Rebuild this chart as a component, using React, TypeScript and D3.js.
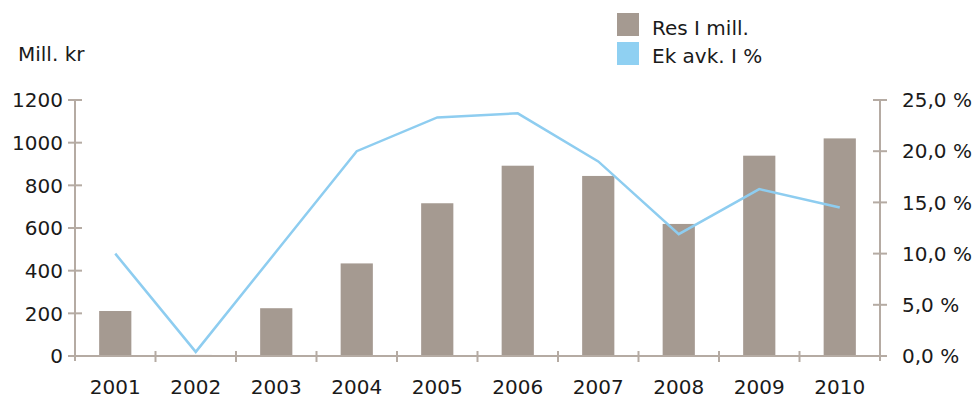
import React from "react";
import * as d3 from "d3";

const years = ["2001", "2002", "2003", "2004", "2005", "2006", "2007", "2008", "2009", "2010"];
const resultMill = [211, 5, 224, 434, 716, 892, 844, 619, 939, 1020];
const equityReturnPct = [10.0, 0.4, 10.2, 20.0, 23.3, 23.7, 19.0, 11.9, 16.3, 14.5];
const leftTicks = [0, 200, 400, 600, 800, 1000, 1200];
const rightTicks = [0, 5, 10, 15, 20, 25];
const legendLabels = ["Res I mill.", "Ek avk. I %"];
const leftTitle = "Mill. kr";

const W = 975;
const H = 399;
const plotLeft = 75;
const plotRight = 880;
const plotTop = 100;
const plotBottom = 356;

const barColor = "#a59a91";
const lineColor = "#8ecdf0";
const axisColor = "#b5aba3";
const textColor = "#1a1a1a";
const font = "'DejaVu Sans', sans-serif";

export default function App() {
  const xBand = d3.scaleBand<string>().domain(years).range([plotLeft, plotRight]).paddingInner(0.6).paddingOuter(0.3);
  const xCat = d3.scaleBand<string>().domain(years).range([plotLeft, plotRight]).padding(0);
  const yL = d3.scaleLinear().domain([0, 1200]).range([plotBottom, plotTop]);
  const yR = d3.scaleLinear().domain([0, 25]).range([plotBottom, plotTop]);

  const line = d3
    .line<number>()
    .x((_, i) => (xCat(years[i]) as number) + xCat.bandwidth() / 2)
    .y((d) => yR(d));

  const fmtPct = (v: number) => v.toFixed(1).replace(".", ",") + " %";

  return (
    <svg width={W} height={H} style={{ position: "absolute", left: 0, top: 0 }} fontFamily={font}>
      <rect width={W} height={H} fill="#fff" />
      {resultMill.map((v, i) => (
        <rect
          key={years[i]}
          x={xBand(years[i])}
          width={xBand.bandwidth()}
          y={yL(v)}
          height={plotBottom - yL(v)}
          fill={barColor}
        />
      ))}
      <g stroke={axisColor} strokeWidth={2} fill="none">
        <line x1={plotLeft} x2={plotLeft} y1={plotTop} y2={plotBottom + 5} />
        <line x1={plotRight} x2={plotRight} y1={plotTop} y2={plotBottom + 5} />
        <line x1={plotLeft} x2={plotRight} y1={plotBottom} y2={plotBottom} />
        {leftTicks.map((t) => (
          <line key={"lt" + t} x1={plotLeft - 7} x2={plotLeft + 7} y1={yL(t)} y2={yL(t)} />
        ))}
        {rightTicks.map((t) => (
          <line key={"rt" + t} x1={plotRight - 7} x2={plotRight + 7} y1={yR(t)} y2={yR(t)} />
        ))}
        {years.slice(0, -1).map((y) => {
          const xx = (xCat(y) as number) + xCat.bandwidth();
          return <line key={"xt" + y} x1={xx} x2={xx} y1={plotBottom - 5} y2={plotBottom + 6} />;
        })}
      </g>
      <path d={line(equityReturnPct) || ""} fill="none" stroke={lineColor} strokeWidth={2.5} strokeLinejoin="miter" />
      {leftTicks.map((t) => (
        <text key={"ll" + t} x={63} y={yL(t)} dy="0.36em" textAnchor="end" fontSize={20} fill={textColor}>
          {t}
        </text>
      ))}
      {rightTicks.map((t) => (
        <text key={"rl" + t} x={902} y={yR(t)} dy="0.36em" textAnchor="start" fontSize={20} fill={textColor}>
          {fmtPct(t)}
        </text>
      ))}
      {years.map((y) => (
        <text
          key={"xl" + y}
          x={(xCat(y) as number) + xCat.bandwidth() / 2}
          y={394}
          textAnchor="middle"
          fontSize={20}
          fill={textColor}
        >
          {y}
        </text>
      ))}
      <text x={18} y={61} fontSize={20} fill={textColor}>
        {leftTitle}
      </text>
      <rect x={617} y={13} width={22} height={23} fill={barColor} />
      <text x={652} y={35} fontSize={20} fill={textColor}>
        {legendLabels[0]}
      </text>
      <rect x={617} y={42} width={22} height={23} fill="#8fd0f2" />
      <text x={652} y={63} fontSize={20} fill={textColor}>
        {legendLabels[1]}
      </text>
    </svg>
  );
}
